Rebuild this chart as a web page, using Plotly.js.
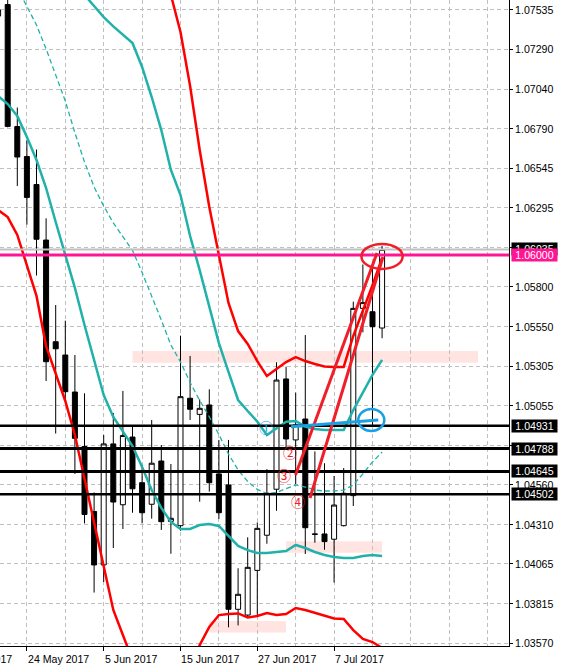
<!DOCTYPE html>
<html><head><meta charset="utf-8">
<script src="https://cdn.plot.ly/plotly-3.0.1.min.js"></script>
<style>html,body{margin:0;padding:0;background:#fff;}#chart{width:563px;height:669px;}</style>
</head><body><div id="chart"></div>
<script>
// ---- data (daily candles) ----
const dates = ['19 May 2017','22 May 2017','23 May 2017','24 May 2017','25 May 2017','26 May 2017','29 May 2017','30 May 2017','31 May 2017','1 Jun 2017','2 Jun 2017','5 Jun 2017','6 Jun 2017','7 Jun 2017','8 Jun 2017','9 Jun 2017','12 Jun 2017','13 Jun 2017','14 Jun 2017','15 Jun 2017','16 Jun 2017','19 Jun 2017','20 Jun 2017','21 Jun 2017','22 Jun 2017','23 Jun 2017','26 Jun 2017','27 Jun 2017','28 Jun 2017','29 Jun 2017','30 Jun 2017','3 Jul 2017','4 Jul 2017','5 Jul 2017','6 Jul 2017','7 Jul 2017','10 Jul 2017','11 Jul 2017','12 Jul 2017','13 Jul 2017','14 Jul 2017'];
const open  = [1.07497,1.07569,1.06805,1.06617,1.06442,1.06094,1.05457,1.05374,1.05142,1.04801,1.04394,1.04059,1.04817,1.04436,1.04860,1.04574,1.04439,1.04710,1.04332,1.04305,1.05103,1.05002,1.05061,1.04629,1.04560,1.03781,1.03745,1.04025,1.04245,1.04533,1.05224,1.04842,1.04973,1.04253,1.04253,1.04220,1.04305,1.04493,1.05666,1.05645,1.05543];
const high  = [1.07540,1.07650,1.06924,1.06718,1.06661,1.06230,1.05687,1.05589,1.05374,1.05134,1.04513,1.04873,1.05011,1.05149,1.04925,1.04685,1.04967,1.04810,1.04691,1.05495,1.05368,1.05096,1.05159,1.04842,1.04842,1.04038,1.04232,1.04325,1.04659,1.05328,1.05301,1.05138,1.05499,1.04770,1.04696,1.04616,1.04666,1.05708,1.05941,1.05931,1.06057];
const low   = [1.07497,1.06800,1.06433,1.06191,1.05872,1.05211,1.04882,1.05092,1.04629,1.04319,1.03886,1.03952,1.04165,1.04284,1.04386,1.04319,1.04349,1.04278,1.04129,1.04273,1.04967,1.04455,1.04518,1.04347,1.03668,1.03680,1.03733,1.03741,1.04192,1.04398,1.04785,1.04566,1.04127,1.04198,1.04154,1.03949,1.04300,1.04428,1.05516,1.04936,1.05479];
const close = [1.07535,1.06806,1.06614,1.06361,1.06099,1.05332,1.05413,1.05144,1.04852,1.04375,1.04059,1.04817,1.04453,1.04870,1.04536,1.04386,1.04696,1.04330,1.04351,1.05113,1.05034,1.05040,1.04574,1.04386,1.03781,1.03875,1.04044,1.04288,1.04508,1.05217,1.04848,1.04936,1.04292,1.04251,1.04205,1.04434,1.04508,1.05666,1.05702,1.05551,1.06035];

// Bollinger bands
const bbUpper2 = [null,null,null,null,null,null,null,null,null,null,null,null,null,null,1.08537,1.08318,1.08099,1.07879,1.07629,1.07397,1.07059,1.06658,1.06301,1.06000,1.05700,1.05524,1.05443,1.05336,1.05242,1.05286,1.05330,1.05361,1.05336,1.05318,1.05302,1.05299,1.05299,1.05493,1.05650,1.05812,1.05982];
const bbUpper1 = [null,null,null,null,null,null,1.08161,1.07942,1.07754,1.07629,1.07560,1.07491,1.07432,1.07378,1.07328,1.07178,1.06990,1.06783,1.06533,1.06376,1.06119,1.05906,1.05681,1.05449,1.05268,1.05092,1.05023,1.04957,1.04873,1.04917,1.04956,1.04961,1.04925,1.04910,1.04904,1.04904,1.04904,1.05029,1.05136,1.05249,1.05343];
const bbMiddle = [1.07848,1.07767,1.07673,1.07554,1.07441,1.07291,1.07122,1.06965,1.06765,1.06583,1.06426,1.06307,1.06201,1.06116,1.06029,1.05891,1.05744,1.05593,1.05437,1.05330,1.05202,1.05089,1.04986,1.04876,1.04754,1.04654,1.04582,1.04532,1.04506,1.04513,1.04537,1.04560,1.04547,1.04528,1.04522,1.04522,1.04528,1.04560,1.04629,1.04704,1.04766];
const bbLower1 = [1.06996,1.06946,1.06871,1.06739,1.06595,1.06420,1.06207,1.06007,1.05794,1.05562,1.05343,1.05123,1.04986,1.04892,1.04804,1.04672,1.04528,1.04416,1.04328,1.04284,1.04284,1.04309,1.04315,1.04303,1.04240,1.04178,1.04152,1.04134,1.04134,1.04140,1.04146,1.04184,1.04165,1.04140,1.04121,1.04109,1.04102,1.04102,1.04115,1.04121,1.04115];
const bbLower2 = [1.06282,1.06238,1.06126,1.05938,1.05744,1.05430,1.05255,1.05086,1.04873,1.04604,1.04322,1.04052,1.03777,1.03620,1.03463,1.03338,1.03232,1.03182,1.03213,1.03276,1.03420,1.03557,1.03670,1.03745,1.03752,1.03755,1.03730,1.03739,1.03758,1.03745,1.03752,1.03789,1.03777,1.03758,1.03739,1.03723,1.03720,1.03651,1.03595,1.03576,1.03539];

// axis labels (labels hidden behind price boxes in the reference are left blank)
const priceTicks = [1.07535,1.07290,1.07040,1.06790,1.06545,1.06295,1.06045,1.05800,1.05550,1.05305,1.05055,1.04810,1.04560,1.04310,1.04065,1.03815,1.03570];
const priceTickText = ['1.07535','1.07290','1.07040','1.06790','1.06545','1.06295','','1.05800','1.05550','1.05305','1.05055','','1.04560','1.04310','1.04065','1.03815','1.03570'];
const dateLabels = ['12 May 2017','24 May 2017','5 Jun 2017','15 Jun 2017','27 Jun 2017','7 Jul 2017'];
const dateLabelIdx = [-5,3,11,19,27,35];

// drawn objects
const blackLevels = [1.04931,1.04788,1.04645,1.04502];
const blackLevelWidths = [2.5,3,3,2.5];
const keyLevel = 1.06000;
const bidPrice = close[close.length-1];
const zones = [ {d0:14,d1:50,p0:1.05326,p1:1.05399}, {d0:30,d1:40,p0:1.04135,p1:1.04208}, {d0:22,d1:30,p0:1.03635,p1:1.03708} ];
const redTrends = [ {d0:30.98,p0:1.04622,d1:39.47,p1:1.06013}, {d0:32.49,p0:1.04478,d1:40.09,p1:1.05988} ];
const blueTrend = {d0:30.51,p0:1.04925,d1:39.6,p1:1.04967};
const redOval = {d0:37.85,d1:42.14,p0:1.05913,p1:1.06069};
const blueOval = {d0:37.52,d1:40.23,p0:1.04898,p1:1.05036};
const markers = [ {t:'①',d:27.9,p:1.04923,c:'#1BA1E2'}, {t:'②',d:30.4,p:1.04766,c:'#F01E28'}, {t:'③',d:29.73,p:1.04622,c:'#F01E28'}, {t:'④',d:31.2,p:1.04459,c:'#F01E28'} ];

// ---- chart ----
const idx = dates.map((d,i)=>i);
const XR = [0.198, 53.22];
const YR = [1.035512, 1.075976];
const FONT = 'Liberation Sans, Arial, sans-serif';
const FS = 10.6;
const TEAL = '#20B2AA', RED = '#FF0000';

const traces = [
  {type:'candlestick', x:idx, open:open, high:high, low:low, close:close, text:dates, hoverinfo:'text',
   whiskerwidth:0,
   increasing:{line:{color:'#000',width:1}, fillcolor:'#FFFFFF'},
   decreasing:{line:{color:'#000',width:1}, fillcolor:'#000000'}, showlegend:false},
  {type:'scatter', mode:'lines', x:idx, y:bbMiddle, line:{color:TEAL,width:1.3,dash:'5px,3px'}, showlegend:false, hoverinfo:'skip'},
  {type:'scatter', mode:'lines', x:idx, y:bbUpper1, line:{color:TEAL,width:2.5}, showlegend:false, hoverinfo:'skip'},
  {type:'scatter', mode:'lines', x:idx, y:bbLower1, line:{color:TEAL,width:2.5}, showlegend:false, hoverinfo:'skip'},
  {type:'scatter', mode:'lines', x:idx, y:bbUpper2, line:{color:RED,width:2.5}, showlegend:false, hoverinfo:'skip'},
  {type:'scatter', mode:'lines', x:idx, y:bbLower2, line:{color:RED,width:2.5}, showlegend:false, hoverinfo:'skip'}
];

const shapes = [];
zones.forEach(z=>shapes.push({type:'rect', layer:'below', xref:'x', yref:'y', x0:z.d0, x1:z.d1, y0:z.p0, y1:z.p1, fillcolor:'#FFE4E1', line:{width:0}}));
shapes.push({type:'line', layer:'above', xref:'paper', yref:'y', x0:0, x1:1, y0:bidPrice, y1:bidPrice, line:{color:'#C0C0C0', width:2}});
shapes.push({type:'line', layer:'above', xref:'paper', yref:'y', x0:0, x1:1, y0:keyLevel, y1:keyLevel, line:{color:'#FF1493', width:3}});
blackLevels.forEach((v,i)=>shapes.push({type:'line', layer:'above', xref:'paper', yref:'y', x0:0, x1:1, y0:v, y1:v, line:{color:'#000', width:blackLevelWidths[i]}}));
redTrends.forEach(t=>shapes.push({type:'line', layer:'above', xref:'x', yref:'y', x0:t.d0, y0:t.p0, x1:t.d1, y1:t.p1, line:{color:'#F01E28', width:3}}));
shapes.push({type:'line', layer:'above', xref:'x', yref:'y', x0:blueTrend.d0, y0:blueTrend.p0, x1:blueTrend.d1, y1:blueTrend.p1, line:{color:'#1BA1E2', width:3}});
shapes.push({type:'circle', layer:'above', xref:'x', yref:'y', x0:redOval.d0, x1:redOval.d1, y0:redOval.p0, y1:redOval.p1, line:{color:'#F01E28', width:2.5}});
shapes.push({type:'circle', layer:'above', xref:'x', yref:'y', x0:blueOval.d0, x1:blueOval.d1, y0:blueOval.p0, y1:blueOval.p1, line:{color:'#1BA1E2', width:2.5}});

const annotations = [];
// date labels
dateLabels.forEach((t,i)=>{
  const px = (dateLabelIdx[i]-XR[0])/(XR[1]-XR[0]);
  annotations.push({xref:'paper', yref:'paper', x:px, y:0, xanchor:'left', yanchor:'top', xshift:-1, yshift:-5,
    text:t, showarrow:false, font:{family:FONT, size:FS, color:'#000'}});
});
// price labels on the right
function priceLabel(v, bg){
  annotations.push({xref:'paper', yref:'y', x:1, y:v, xanchor:'left', yanchor:'middle', xshift:2,
    text:v.toFixed(5), showarrow:false, bgcolor:bg, width:43, height:10, borderpad:1, align:'center',
    font:{family:FONT, size:FS, color:'#FFFFFF'}});
}
priceLabel(bidPrice, '#000000');
priceLabel(keyLevel, '#FF1493');
blackLevels.forEach(v=>priceLabel(v, '#000000'));
markers.forEach(m=>annotations.push({xref:'x', yref:'y', x:m.d, y:m.p, text:m.t, showarrow:false,
  xanchor:'center', yanchor:'middle', font:{family:'Noto Sans CJK JP', size:14, color:m.c}}));

const gridStyle = {gridcolor:'#C0C0C0', griddash:'4px,3px', gridwidth:1};
const layout = {
  width:563, height:669, margin:{l:0, r:54, t:0, b:23, pad:0},
  paper_bgcolor:'#FFFFFF', plot_bgcolor:'#FFFFFF', showlegend:false,
  boxgap:0.48, boxgroupgap:0,
  xaxis:Object.assign({type:'linear', range:XR, rangeslider:{visible:false}, fixedrange:true,
    tickmode:'array', tickvals:dateLabelIdx.slice(1), ticktext:dateLabelIdx.slice(1).map(()=>''), showticklabels:false,
    ticks:'outside', ticklen:4, tickcolor:'#000', tickwidth:1,
    showline:true, linecolor:'#000', linewidth:1, zeroline:false, showgrid:true,
    minor:{tickmode:'array', tickvals:[7,15,23,31,39,43,47,51], showgrid:true, gridcolor:'#C0C0C0', griddash:'4px,3px', gridwidth:1, ticks:''}
  }, gridStyle),
  yaxis:Object.assign({side:'right', range:YR, fixedrange:true, tickmode:'array', tickvals:priceTicks,
    ticktext:priceTickText, ticks:'outside', ticklen:3, tickcolor:'#000',
    tickfont:{family:FONT, size:FS, color:'#000'}, showline:true, linecolor:'#000', linewidth:1, zeroline:false, showgrid:true}, gridStyle),
  shapes:shapes, annotations:annotations
};
Plotly.newPlot('chart', traces, layout, {displayModeBar:false, staticPlot:true});
</script>
</body></html>
